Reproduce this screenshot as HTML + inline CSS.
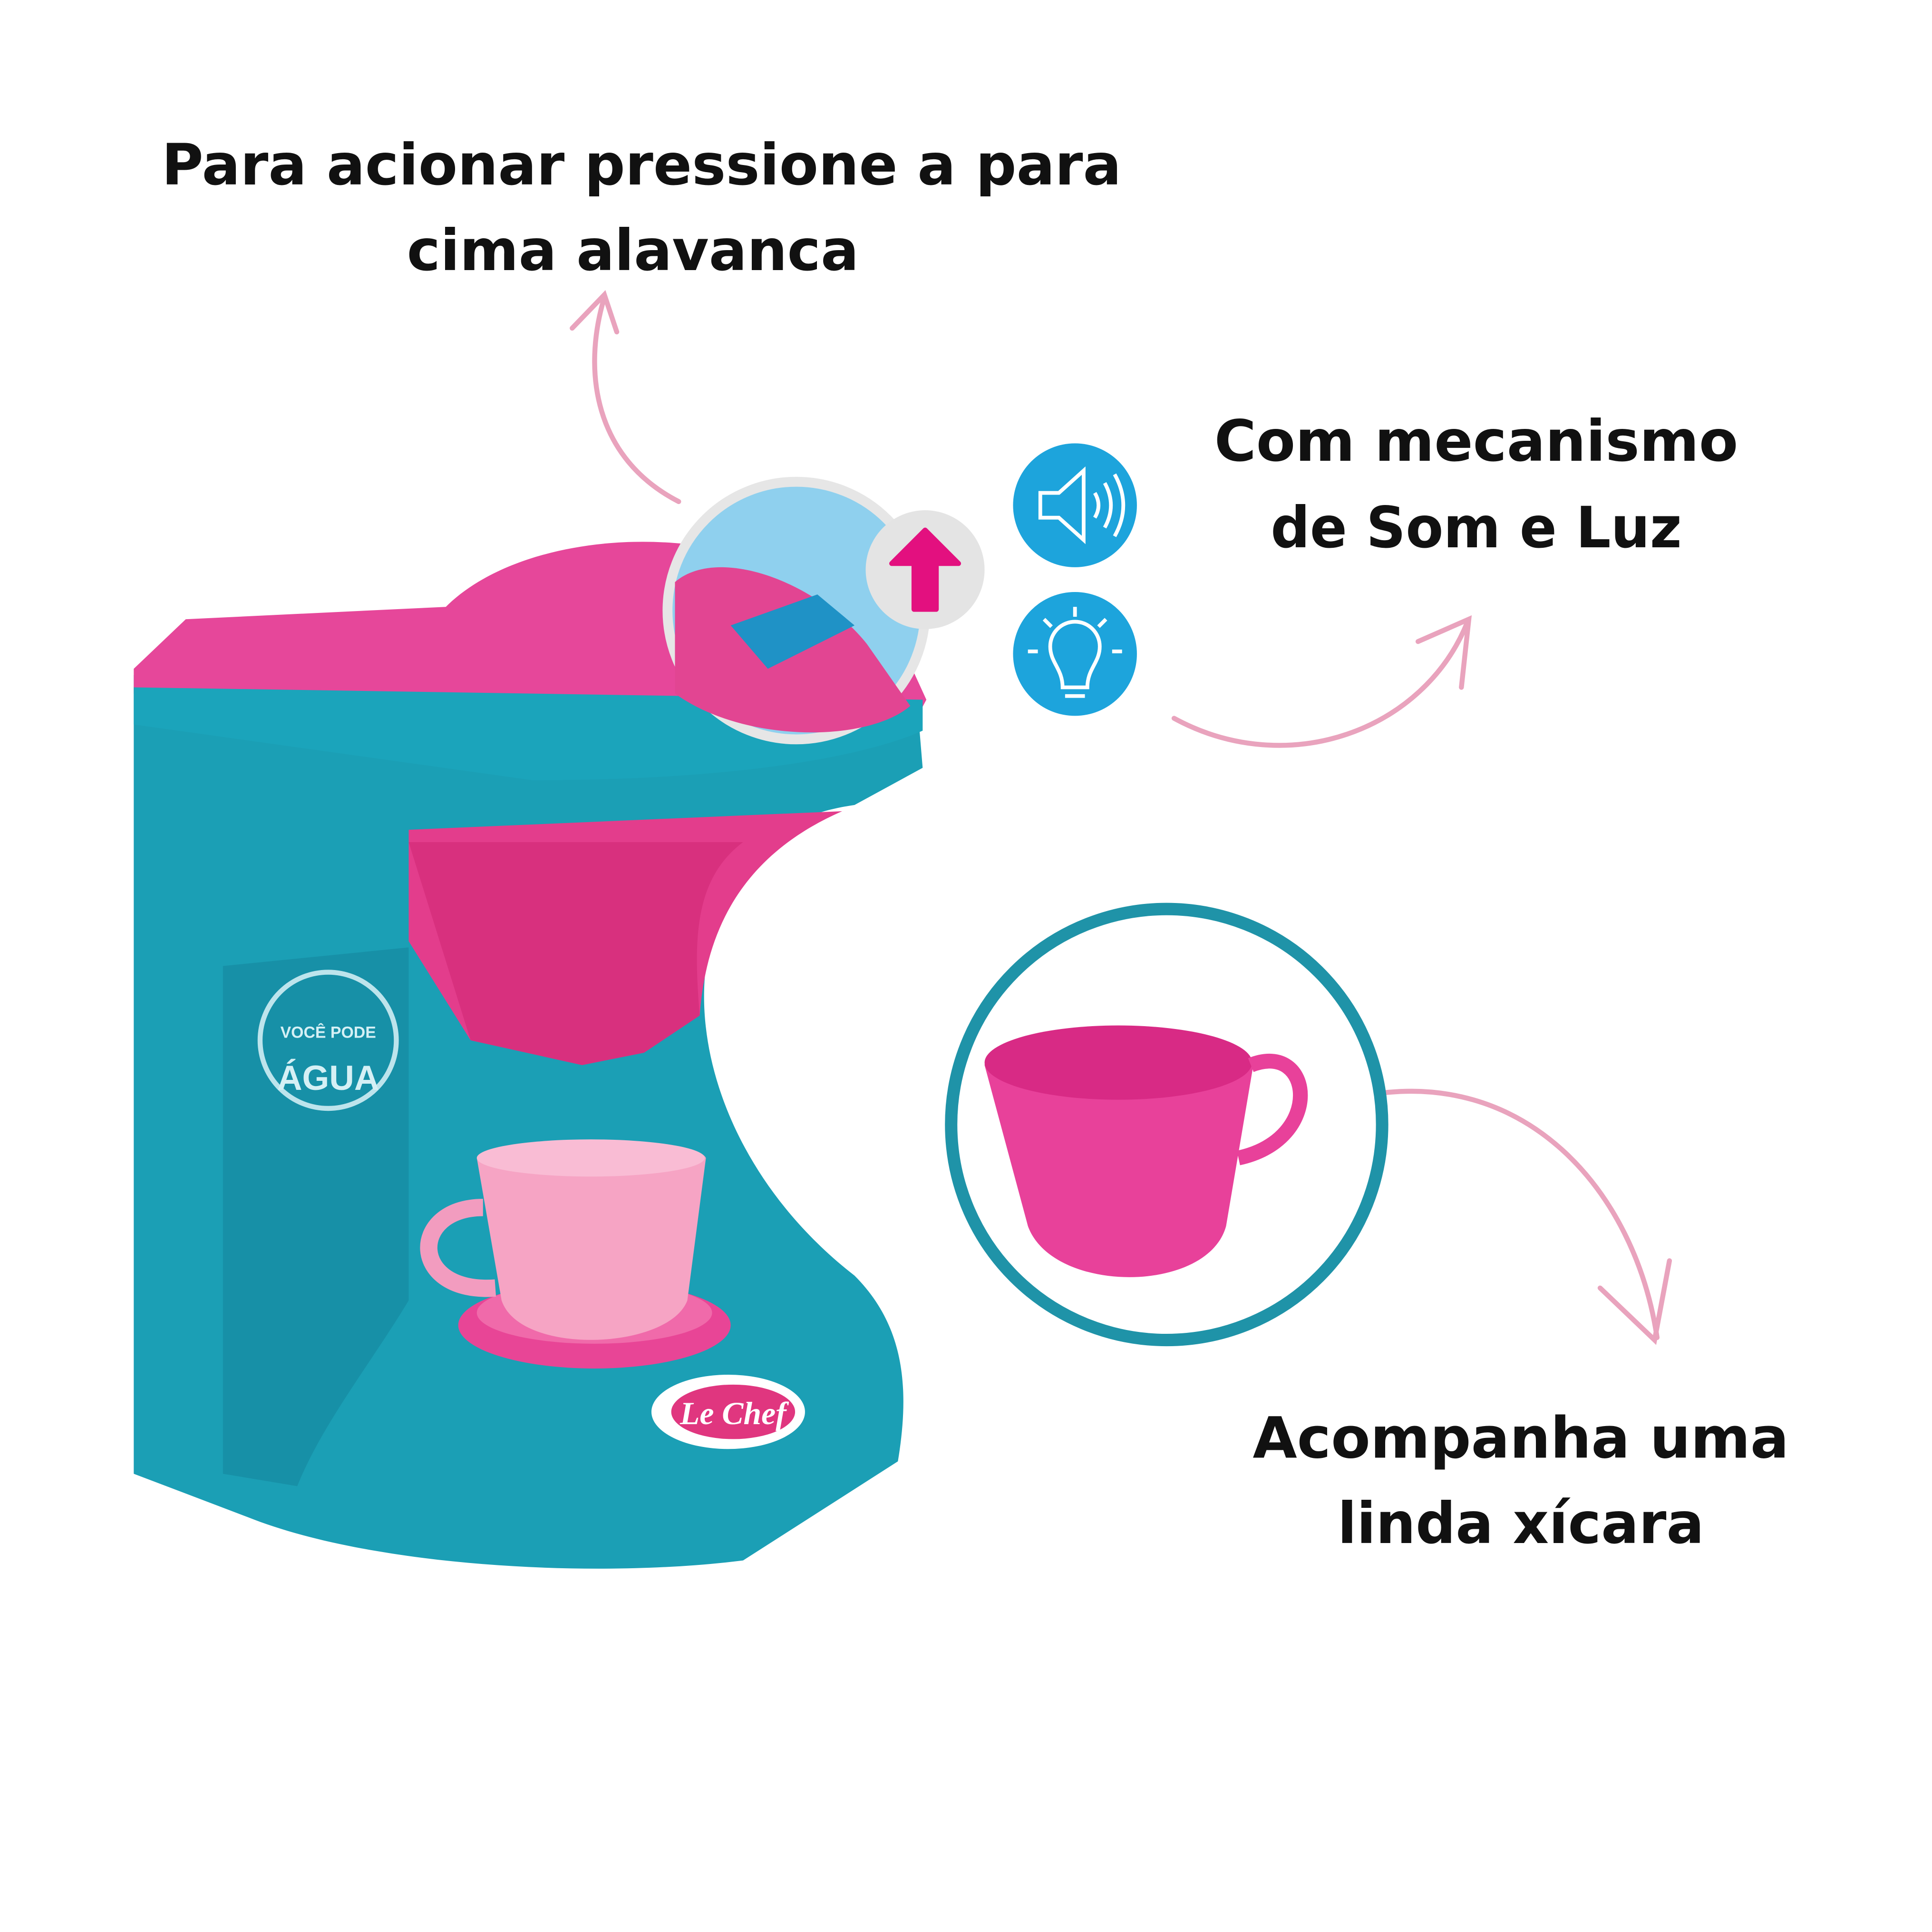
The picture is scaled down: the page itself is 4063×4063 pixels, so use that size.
<!DOCTYPE html>
<html><head><meta charset="utf-8"><style>html,body{margin:0;padding:0;background:#fff}svg{display:block}</style></head><body>
<svg width="4063" height="4063" viewBox="0 0 1560 1560" xmlns="http://www.w3.org/2000/svg">
<rect width="1560" height="1560" fill="#fff"/>
<g font-family="'DejaVu Sans','Liberation Sans',sans-serif" font-weight="bold" fill="#111" font-size="46" text-anchor="middle">
<text x="518" y="149" textLength="775" lengthAdjust="spacingAndGlyphs">Para acionar pressione a  para</text>
<text x="511" y="218" textLength="365" lengthAdjust="spacingAndGlyphs">cima alavanca</text>
<text x="1192" y="372" textLength="423" lengthAdjust="spacingAndGlyphs">Com mecanismo</text>
<text x="1192" y="442" textLength="332" lengthAdjust="spacingAndGlyphs">de Som e Luz</text>
<text x="1228" y="1177" textLength="433" lengthAdjust="spacingAndGlyphs">Acompanha uma</text>
<text x="1228" y="1246" textLength="296" lengthAdjust="spacingAndGlyphs">linda xícara</text>
</g>
<g fill="none" stroke="#e9a3bd" stroke-width="4" stroke-linecap="round">
<path d="M548 405 C480 370 470 300 488 240"/>
<path d="M462 265 L488 238 L498 268"/>
<path d="M948 580 C1040 630 1150 590 1185 502"/>
<path d="M1145 518 L1186 500 L1180 555"/>
<path d="M1100 885 C1230 860 1320 960 1338 1080"/>
<path d="M1292 1040 L1336 1082 L1348 1018"/>
</g>
<!-- machine body -->
<path d="M108 545 L740 560 L745 620 L690 650 C620 660 580 700 570 780 C560 860 600 960 690 1030 C730 1070 735 1120 725 1180 L600 1260 C480 1275 300 1265 200 1225 L108 1190 Z" fill="#1b9fb5"/>
<path d="M180 780 L330 765 L330 1050 C300 1100 260 1150 240 1200 L180 1190 Z" fill="#1790a7"/>
<path d="M330 670 L680 655 C600 690 570 750 565 820 L520 850 L470 860 L380 840 L330 760 Z" fill="#e33d8c"/>
<path d="M330 680 L380 840 L470 860 L520 850 L565 820 C560 760 560 710 600 680 Z" fill="#d8307e"/>
<path d="M108 540 L150 500 L360 490 C400 450 480 430 560 440 L700 460 L748 565 L740 580 L420 590 L108 560 Z" fill="#e6479a"/>
<path d="M108 555 L745 565 L745 590 C700 610 600 630 430 630 L108 585 Z" fill="#1ba4bb"/>
<ellipse cx="480" cy="1070" rx="110" ry="35" fill="#e84596"/>
<ellipse cx="480" cy="1060" rx="95" ry="25" fill="#f06aaa"/>
<path d="M385 935 C400 920 560 915 570 935 L555 1050 C540 1090 420 1095 405 1050 Z" fill="#f6a4c4"/>
<ellipse cx="477" cy="935" rx="92" ry="15" fill="#f9bcd4"/>
<path d="M390 975 C330 975 330 1045 400 1040" fill="none" stroke="#f29cbf" stroke-width="14"/>
<circle cx="265" cy="840" r="55" fill="none" stroke="#bde4ec" stroke-width="4"/>
<text x="265" y="880" font-family="'Liberation Sans',sans-serif" font-weight="bold" font-size="28" fill="#d5f0f5" text-anchor="middle">ÁGUA</text>
<text x="265" y="838" font-family="'Liberation Sans',sans-serif" font-weight="bold" font-size="13" fill="#d5f0f5" text-anchor="middle">VOCÊ PODE</text>
<ellipse cx="588" cy="1140" rx="62" ry="30" fill="#fff"/>
<ellipse cx="592" cy="1140" rx="50" ry="22" fill="#e0367f"/>
<text x="592" y="1150" font-family="'Liberation Serif',serif" font-style="italic" font-weight="bold" font-size="26" fill="#fff" text-anchor="middle">Le Chef</text>
<!-- lever circle -->
<circle cx="643" cy="493" r="104" fill="#8fd0ee" stroke="#e6e6e6" stroke-width="8"/>
<path d="M545 470 C580 440 660 470 700 520 L735 570 C700 600 600 600 545 560 Z" fill="#e24592"/>
<path d="M590 505 L660 480 L690 505 L620 540 Z" fill="#1f92c6"/>
<circle cx="747" cy="460" r="48" fill="#e4e4e4"/>
<path d="M747 428 L720 455 L738 455 L738 492 L756 492 L756 455 L774 455 Z" fill="#e3107f" stroke="#e3107f" stroke-width="4" stroke-linejoin="round"/>
<!-- icons -->
<circle cx="868" cy="408" r="50" fill="#1da4dc"/>
<path d="M840 398 L855 398 L875 380 L875 436 L855 418 L840 418 Z M884 398 Q890 408 884 418 M892 390 Q902 408 892 426 M900 383 Q914 408 900 433" fill="none" stroke="#fff" stroke-width="3"/>
<circle cx="868" cy="528" r="50" fill="#1da4dc"/>
<g fill="none" stroke="#fff" stroke-width="3">
<path d="M858 555 C858 540 848 535 848 522 A20 20 0 1 1 888 522 C888 535 878 540 878 555 Z"/>
<path d="M860 562 L876 562"/>
<path d="M868 490 L868 498 M843 500 L849 506 M893 500 L887 506 M830 526 L838 526 M898 526 L906 526"/>
</g>
<!-- cup circle -->
<circle cx="942" cy="908" r="174" fill="#fff" stroke="#1f93a8" stroke-width="10"/>
<path d="M795 860 C800 820 1010 820 1012 860 L990 990 C975 1045 850 1045 830 990 Z" fill="#e8419a"/>
<ellipse cx="903" cy="858" rx="108" ry="30" fill="#d82a85"/>
<path d="M1010 860 C1060 840 1070 920 1000 935" fill="none" stroke="#e8419a" stroke-width="12"/>
</svg>
</body></html>
